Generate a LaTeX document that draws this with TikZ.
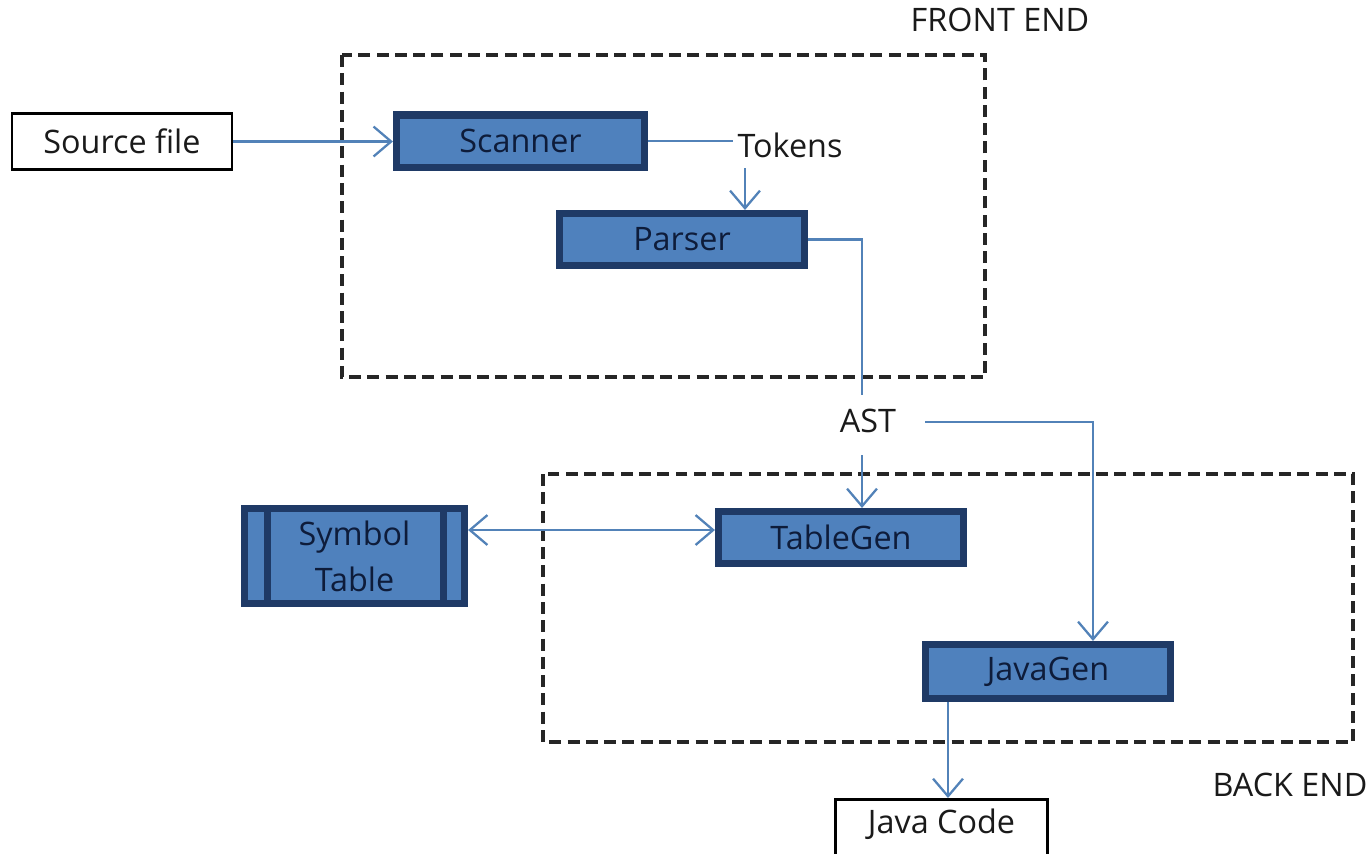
\documentclass[tikz,border=0pt]{standalone}
\usepackage{fontspec}
\setmainfont{Open Sans}
\usetikzlibrary{arrows.meta}
\definecolor{boxfill}{HTML}{4F81BD}
\definecolor{boxline}{HTML}{1F3A66}
\definecolor{boxtext}{HTML}{0E1C3A}
\definecolor{conncol}{HTML}{5282B8}
\definecolor{txt}{HTML}{1A1A1A}
\begin{document}
\begin{tikzpicture}[x=0.01cm,y=-0.01cm,
  font=\fontsize{9.2pt}{11pt}\selectfont,
  bluebox/.style={draw=boxline,line width=2pt,fill=boxfill,text=boxtext,inner sep=0pt,minimum height=0.52cm},
  whitebox/.style={draw=black,line width=0.8pt,fill=white,text=txt,inner sep=0pt},
  lbl/.style={text=txt,inner sep=1pt},
  conn/.style={draw=conncol,line width=0.65pt,-{Straight Barb[length=5pt,width=8.5pt,line width=0.65pt]}},
  plain/.style={draw=conncol,line width=0.65pt},
  endbox/.style={draw=black!85,line width=1.1pt,dash pattern=on 3.4pt off 1.8pt}]
\useasboundingbox (0,0) rectangle (1369,853);
% dashed regions
\draw[endbox] (342,55) rectangle (985,377);
\draw[endbox] (543,474) rectangle (1353,742);
\node[lbl] (fe) at (1000,20) {FRONT END};
\node[lbl] (be) at (1290,785) {BACK END};
% nodes
\node[whitebox,minimum width=2.2cm,minimum height=0.56cm] (src) at (122,141.5) {Source file};
\node[bluebox,minimum width=2.48cm] (scan) at (520.5,141) {Scanner};
\node[lbl] (tok) at (790,145) {Tokens};
\node[bluebox,minimum width=2.45cm] (pars) at (682,239.5) {Parser};
\node[lbl] (ast) at (868,421) {AST};
\node[bluebox,minimum width=2.45cm] (tg) at (841,537.5) {TableGen};
\node[bluebox,minimum width=2.45cm,minimum height=0.54cm] (jg) at (1048,671.5) {JavaGen};
\node[bluebox,minimum width=2.2cm,minimum height=0.95cm,align=center] (sym) at (354.5,556) {Symbol\\[2pt]Table};
\draw[draw=boxline,line width=2pt] ([xshift=0.27cm]sym.north west) -- ([xshift=0.27cm]sym.south west);
\draw[draw=boxline,line width=2pt] ([xshift=-0.25cm]sym.north east) -- ([xshift=-0.25cm]sym.south east);
\node[whitebox,minimum width=2.12cm,anchor=north,text height=0.34cm,text depth=0.3cm] (jc) at (941.5,798) {Java Code};
% helper coordinates
\coordinate (tk) at (745,168);
\coordinate (a1) at (862,395);
\coordinate (a2) at (925,422);
\coordinate (a3) at (862,455);
\coordinate (a4) at (600,530);
\coordinate (a5) at (948,702);
\coordinate (a6) at (1093,640);
% connectors
\draw[conn] (src.east) -- (scan.west |- src.east);
\draw[plain] (scan.east) -- (scan.east -| tok.west);
\draw[conn] (tk) -- (tk |- pars.north);
\draw[plain] (pars.east) -| (a1);
\draw[conn] (a3) -- (a3 |- tg.north);
\draw[conn] (a2) -| (a6 |- jg.north);
\draw[plain,{Straight Barb[length=5pt,width=8.5pt,line width=0.65pt]}-{Straight Barb[length=5pt,width=8.5pt,line width=0.65pt]}] (sym.east |- a4) -- (tg.west |- a4);
\draw[conn] (a5 |- jg.south) -- (a5 |- jc.north);
\end{tikzpicture}
\end{document}
